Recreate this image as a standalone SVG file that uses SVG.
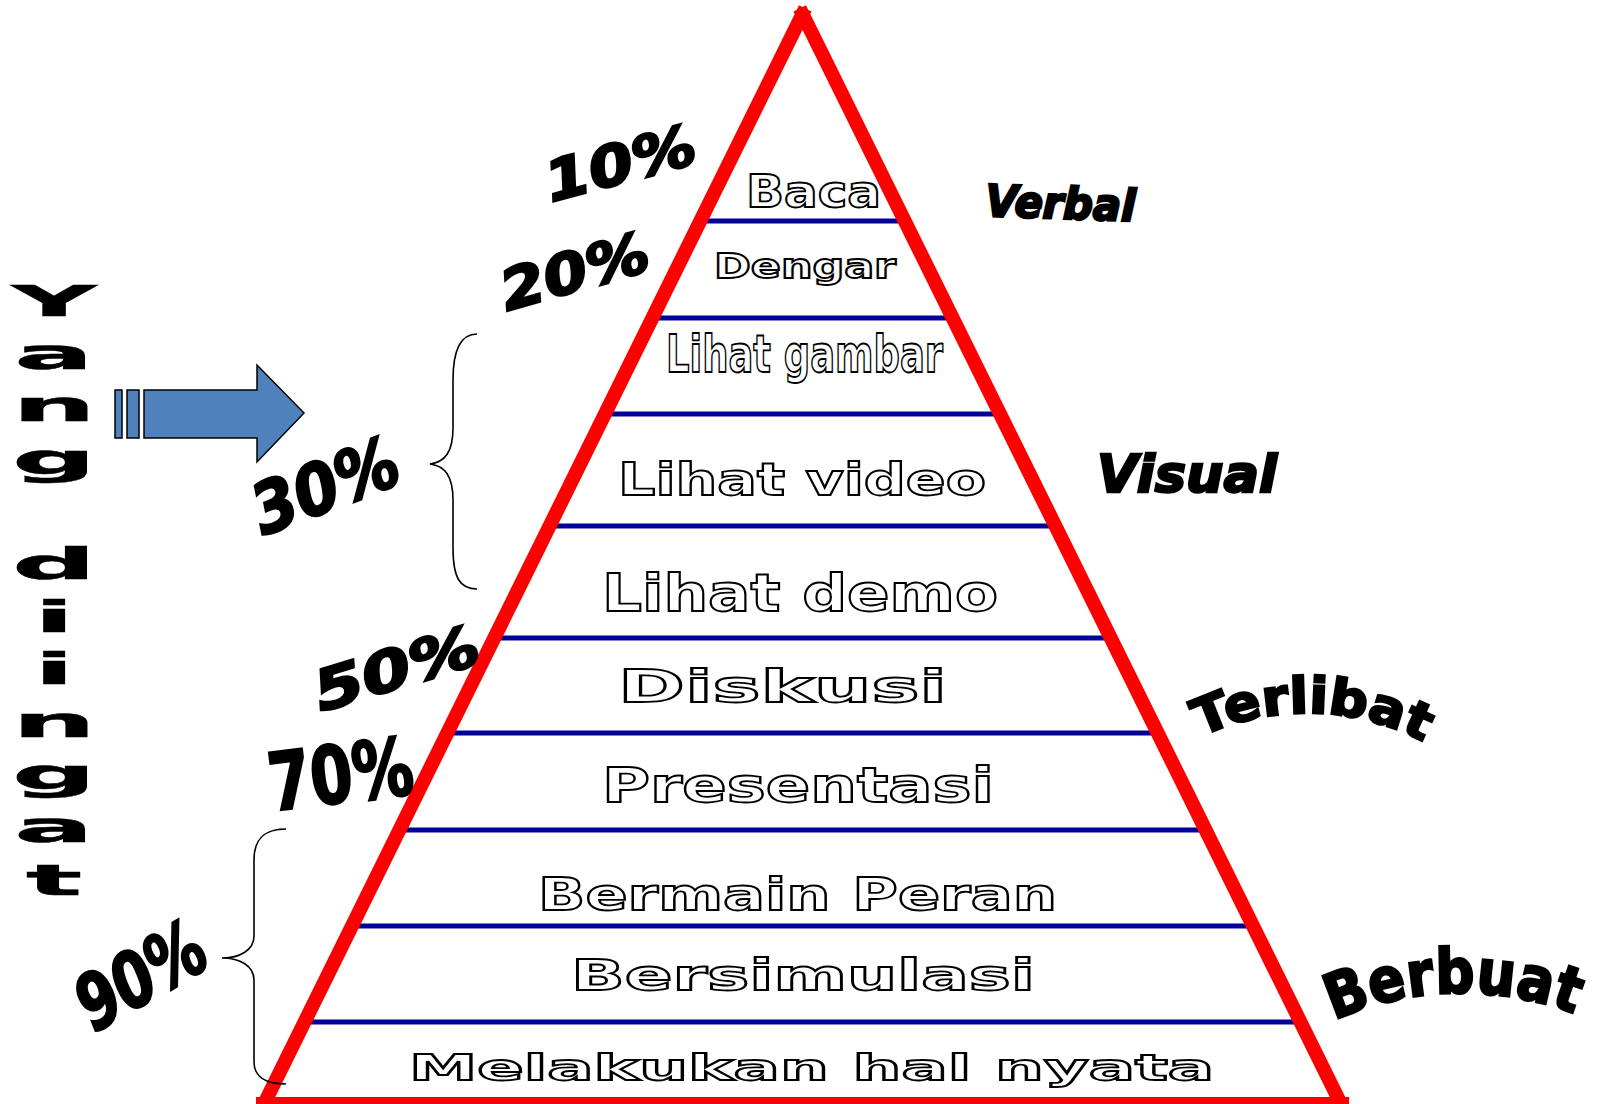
<svg xmlns="http://www.w3.org/2000/svg" width="1599" height="1104" viewBox="0 0 1599 1104">
<style>
.bg{fill:#fff}
.out{font-family:"DejaVu Sans","Liberation Sans",sans-serif;font-weight:bold;fill:#fff;stroke:#000;stroke-width:1.8}
.blk{font-family:"DejaVu Sans","Liberation Sans",sans-serif;font-weight:bold;fill:#000;stroke:#000;stroke-width:1.5}
.heavy{stroke-width:2.5}
.it{font-style:italic}
.sep{stroke:#000099;stroke-width:5}
.edge{stroke:#ff0000;stroke-width:14;fill:none;stroke-linecap:butt}
.brace{fill:none;stroke:#000;stroke-width:1.6}
.arrow{fill:#4f81bd;stroke:#000;stroke-width:1.5}
</style>
<rect class="bg" width="1599" height="1104"/>
<g id="separators">
<line class="sep" x1="700" y1="221" x2="905" y2="221"/>
<line class="sep" x1="652" y1="318" x2="953" y2="318"/>
<line class="sep" x1="605" y1="414" x2="1000" y2="414"/>
<line class="sep" x1="549" y1="526" x2="1056" y2="526"/>
<line class="sep" x1="494" y1="638" x2="1111" y2="638"/>
<line class="sep" x1="447" y1="733" x2="1158" y2="733"/>
<line class="sep" x1="399" y1="830" x2="1206" y2="830"/>
<line class="sep" x1="352" y1="926" x2="1253" y2="926"/>
<line class="sep" x1="304" y1="1022" x2="1301" y2="1022"/>
</g>
<g id="pyramid">
<path class="edge" d="M264,1104 L805.3,8.4 M1341,1104 L799.7,8.4 M256,1104 L1349,1104"/>
</g>
<g id="level-baca"><text class="out" x="746" y="207" font-size="45" textLength="135" lengthAdjust="spacingAndGlyphs">Baca</text></g>
<g id="level-dengar"><text class="out" x="714" y="278" font-size="34" textLength="182" lengthAdjust="spacingAndGlyphs">Dengar</text></g>
<g id="level-lihat-gambar"><text class="out" x="666" y="372" font-size="52" textLength="277" lengthAdjust="spacingAndGlyphs">Lihat gambar</text></g>
<g id="level-lihat-video"><text class="out" x="618" y="495" font-size="44" textLength="368" lengthAdjust="spacingAndGlyphs">Lihat video</text></g>
<g id="level-lihat-demo"><text class="out" x="602" y="611" font-size="51" textLength="396" lengthAdjust="spacingAndGlyphs">Lihat demo</text></g>
<g id="level-diskusi"><text class="out" x="618" y="702" font-size="44" textLength="329" lengthAdjust="spacingAndGlyphs">Diskusi</text></g>
<g id="level-presentasi"><text class="out" x="602" y="802" font-size="48" textLength="392" lengthAdjust="spacingAndGlyphs">Presentasi</text></g>
<g id="level-bermain-peran"><text class="out" x="538" y="910" font-size="44" textLength="519" lengthAdjust="spacingAndGlyphs">Bermain Peran</text></g>
<g id="level-bersimulasi"><text class="out" x="571" y="990" font-size="43" textLength="464" lengthAdjust="spacingAndGlyphs">Bersimulasi</text></g>
<g id="level-melakukan"><text class="out" x="409" y="1080" font-size="36" textLength="805" lengthAdjust="spacingAndGlyphs">Melakukan hal nyata</text></g>
<g id="pct-10"><text class="blk it heavy" transform="translate(551,202) rotate(-15)" font-size="56" textLength="154" lengthAdjust="spacingAndGlyphs">10%</text></g>
<g id="pct-20"><text class="blk it heavy" transform="translate(507,311) rotate(-16)" font-size="56" textLength="152" lengthAdjust="spacingAndGlyphs">20%</text></g>
<g id="pct-30"><text class="blk it heavy" transform="translate(263,536) rotate(-21)" font-size="70" textLength="152" lengthAdjust="spacingAndGlyphs">30%</text></g>
<g id="pct-50"><text class="blk it heavy" transform="translate(321,712) rotate(-17)" font-size="56" textLength="170" lengthAdjust="spacingAndGlyphs">50%</text></g>
<g id="pct-70"><text class="blk heavy" transform="translate(272,811) rotate(-7)" font-size="80" textLength="145" lengthAdjust="spacingAndGlyphs">70%</text></g>
<g id="pct-90"><text class="blk it heavy" transform="translate(94,1033) rotate(-30)" font-size="76" textLength="138" lengthAdjust="spacingAndGlyphs">90%</text></g>
<g id="cat-verbal"><text class="blk it heavy" transform="translate(985,216) rotate(2)" font-size="44" textLength="150" lengthAdjust="spacingAndGlyphs">Verbal</text></g>
<g id="cat-visual"><text class="blk it heavy" x="1097" y="492" font-size="52" textLength="180" lengthAdjust="spacingAndGlyphs">Visual</text></g>
<defs>
<path id="arcTerlibat" d="M1182,746.5 A250,250 0 0 1 1439.5,751"/>
<path id="arcBerbuat" d="M1321.3,1026.8 A310,310 0 0 1 1593,1022"/>
</defs>
<g id="cat-terlibat"><text class="blk heavy" font-size="50"><textPath href="#arcTerlibat" startOffset="21" textLength="231" lengthAdjust="spacingAndGlyphs">Terlibat</textPath></text></g>
<g id="cat-berbuat"><text class="blk heavy" font-size="62"><textPath href="#arcBerbuat" startOffset="14" textLength="247" lengthAdjust="spacingAndGlyphs">Berbuat</textPath></text></g>
<g id="yang-diingat"><text class="blk" transform="scale(2.8,1)" font-size="42" text-anchor="middle" style="stroke-width:0.5"><tspan x="19.3 19.3 19.3 19.3" y="316 368.6 421 473.8">Yang</tspan><tspan x="19.3 19.3 19.3 19.3 19.3 19.3 19.3" y="579 631.6 684 737 789.4 842 894.6">diingat</tspan></text></g>
<g id="brace-30"><path class="brace" d="M477,334 C460,334 453,350 453,380 L453,428 C453,452 445,462 430,464 C445,466 453,476 453,500 L453,548 C453,578 460,589 477,589"/></g>
<g id="brace-90"><path class="brace" d="M286,829 C265,829 254,838 254,860 L254,936 C254,950 240,958 222,958 C240,958 254,966 254,980 L254,1062 C254,1076 265,1084 286,1084"/></g>
<g id="arrow">
<rect class="arrow" x="115" y="390" width="7" height="48"/>
<rect class="arrow" x="127" y="390" width="12" height="48"/>
<path class="arrow" d="M144,390 L257,390 L257,365 L304,413 L257,462 L257,438 L144,438 Z"/>
</g>
</svg>
